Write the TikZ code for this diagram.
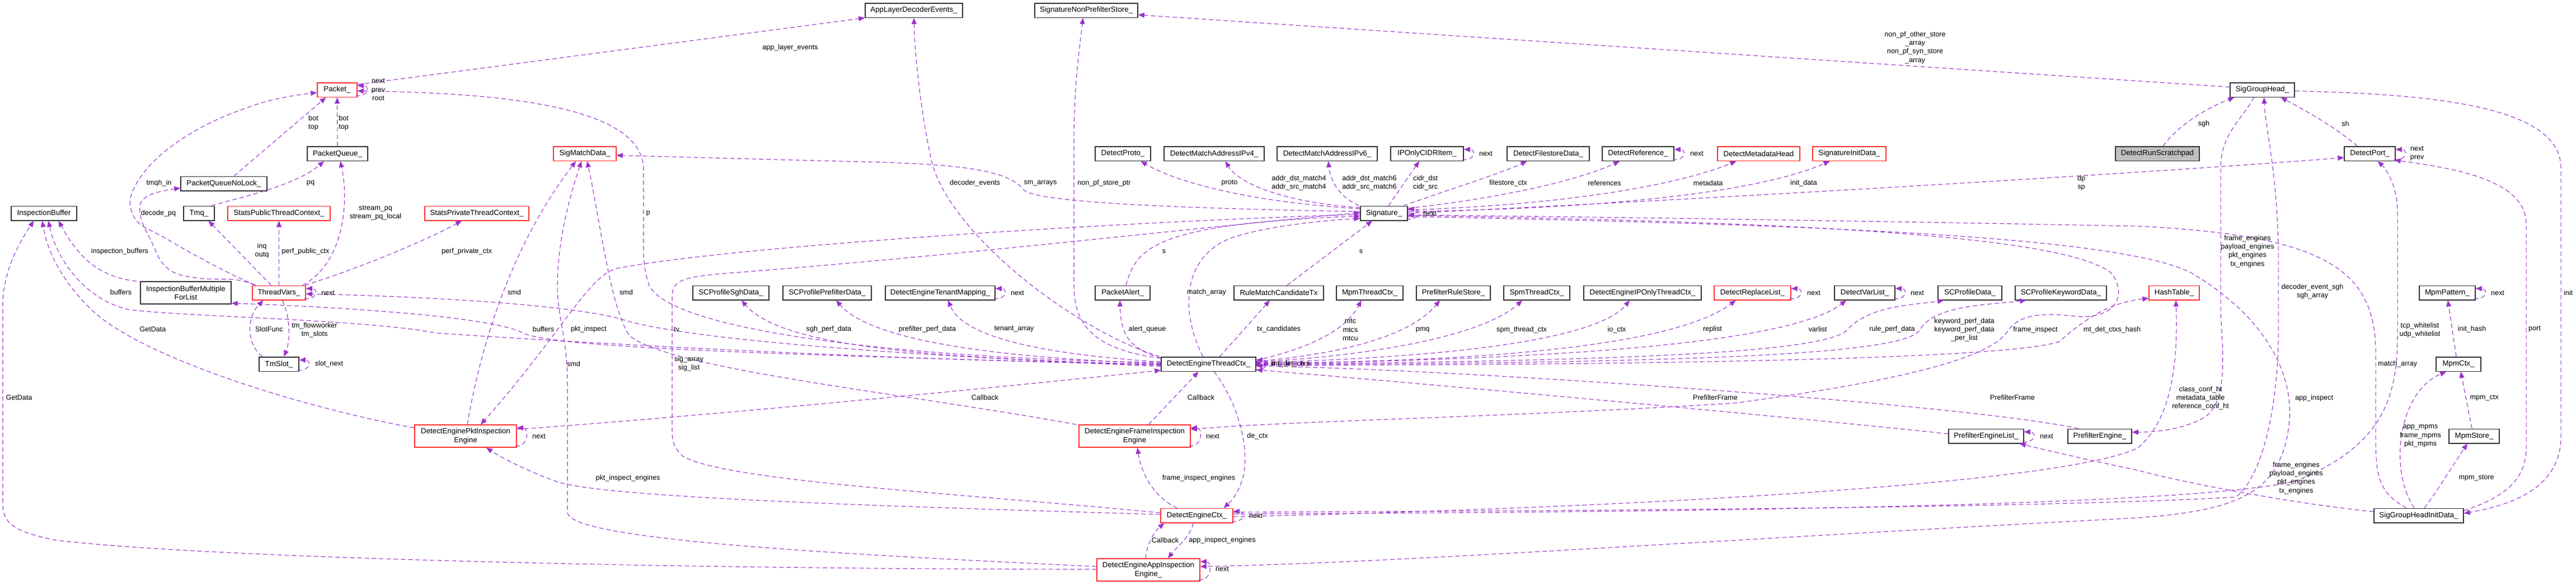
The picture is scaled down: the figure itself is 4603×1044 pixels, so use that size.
\documentclass[tikz,border=0pt]{standalone}
\usepackage{fontspec}
\setmainfont{Liberation Sans}
\usetikzlibrary{arrows.meta}

\definecolor{edgec}{HTML}{9A32CD}
\definecolor{redc}{HTML}{FF3030}
\definecolor{rootfill}{HTML}{BFBFBF}
\newcommand{\nodefont}{\fontsize{13.3pt}{15.3pt}\selectfont}
\newcommand{\lblfont}{\fontsize{12.6pt}{15.2pt}\selectfont}
\newcommand{\selfloop}[1]{\draw[dep] ([xshift=-3pt,yshift=3pt]#1.south east) .. controls +(24pt,-2pt) and +(22pt,0pt) .. ([yshift=-6pt]#1.north east);}

\tikzset{
  cls/.style={draw=black!80, line width=1.5pt, minimum height=25.5pt, inner xsep=4pt, inner ysep=0pt, font=\nodefont},
  trunc/.style={cls, draw=redc},
  root/.style={cls, fill=rootfill},
  two/.style={minimum height=40pt, align=center},
  lbl/.style={font=\lblfont, inner sep=0pt, align=center},
  dep/.style={draw=edgec, line width=1.1pt, dash pattern=on 8pt off 5pt, -{Triangle[length=11pt,width=9pt]}},
}

\begin{document}
\begin{tikzpicture}[x=1pt,y=-1pt]
\useasboundingbox (0,0) rectangle (4603,1044);

% classes
\node[trunc, minimum width=71] (Packet) at (602.5,160.5) {Packet\_};
\node[cls, minimum width=108] (PktQueue) at (603,274.5) {PacketQueue\_};
\node[cls, minimum width=154] (PktQueueNL) at (400,328) {PacketQueueNoLock\_};
\node[cls, minimum width=117] (InspBuf) at (78.5,381) {InspectionBuffer};
\node[cls, minimum width=55] (Tmq) at (355.5,381) {Tmq\_};
\node[trunc, minimum width=183] (StatsPub) at (498.5,381) {StatsPublicThreadContext\_};
\node[trunc, minimum width=186] (StatsPriv) at (852,381) {StatsPrivateThreadContext\_};
\node[cls, two, minimum width=162] (InspBufList) at (332,523) {InspectionBufferMultiple\\ForList};
\node[trunc, minimum width=95] (ThreadVars) at (498.5,523) {ThreadVars\_};
\node[cls, minimum width=71] (TmSlot) at (498.5,650.5) {TmSlot\_};
\node[trunc, two, minimum width=182] (PktEngine) at (832,779) {DetectEnginePktInspection\\Engine};
\node[trunc, minimum width=112] (SigMatch) at (1045,274.5) {SigMatchData\_};
\node[cls, minimum width=136] (ProfSgh) at (1306,523) {SCProfileSghData\_};
\node[cls, minimum width=158] (ProfPrefilter) at (1478,523) {SCProfilePrefilterData\_};
\node[cls, minimum width=174] (AppEvents) at (1633,18.5) {AppLayerDecoderEvents\_};
\node[cls, minimum width=184] (NonPfStore) at (1941,18.5) {SignatureNonPrefilterStore\_};
\node[cls, minimum width=99] (Proto) at (2006.5,274.5) {DetectProto\_};
\node[cls, minimum width=179] (AddrIPv4) at (2169.5,274.5) {DetectMatchAddressIPv4\_};
\node[cls, minimum width=179] (AddrIPv6) at (2371.5,274.5) {DetectMatchAddressIPv6\_};
\node[cls, minimum width=130] (CidrItem) at (2550,274.5) {IPOnlyCIDRItem\_};
\node[cls, minimum width=147] (Filestore) at (2766.5,274.5) {DetectFilestoreData\_};
\node[cls, minimum width=128] (Reference) at (2927,274.5) {DetectReference\_};
\node[trunc, minimum width=147] (MetaHead) at (3142.5,274.5) {DetectMetadataHead};
\node[trunc, minimum width=131] (SigInit) at (3304.5,274.5) {SignatureInitData\_};
\node[root, minimum width=150] (Scratchpad) at (3855,274.5) {DetectRunScratchpad};
\node[cls, minimum width=84] (Signature) at (2473,381) {Signature\_};
\node[cls, minimum width=98] (PktAlert) at (2006,523) {PacketAlert\_};
\node[cls, minimum width=160] (RuleCand) at (2285,523) {RuleMatchCandidateTx};
\node[cls, minimum width=196] (Tenant) at (1680,523) {DetectEngineTenantMapping\_};
\node[cls, minimum width=119] (MpmThread) at (2447.5,523) {MpmThreadCtx\_};
\node[cls, minimum width=132] (RuleStore) at (2597,523) {PrefilterRuleStore\_};
\node[cls, minimum width=118] (SpmThread) at (2746,523) {SpmThreadCtx\_};
\node[cls, minimum width=210] (IPOnlyCtx) at (2935,523) {DetectEngineIPOnlyThreadCtx\_};
\node[trunc, minimum width=137] (ReplaceList) at (3131.5,523) {DetectReplaceList\_};
\node[cls, minimum width=108] (VarList) at (3332,523) {DetectVarList\_};
\node[cls, minimum width=114] (ProfData) at (3520,523) {SCProfileData\_};
\node[cls, minimum width=163] (ProfKeyword) at (3682.5,523) {SCProfileKeywordData\_};
\node[trunc, minimum width=90] (HashTable) at (3885,523) {HashTable\_};
\node[cls, minimum width=100] (MpmPattern) at (4373,523) {MpmPattern\_};
\node[cls, minimum width=115] (SigGroupHead) at (4042.5,160.5) {SigGroupHead\_};
\node[cls, minimum width=91] (Port) at (4234.5,274.5) {DetectPort\_};
\node[cls, minimum width=169] (ThreadCtx) at (2159.5,650.5) {DetectEngineThreadCtx\_};
\node[trunc, two, minimum width=199] (FrameEngine) at (2027.5,779) {DetectEngineFrameInspection\\Engine};
\node[trunc, minimum width=129] (EngineCtx) at (2138.5,921) {DetectEngineCtx\_};
\node[trunc, two, minimum width=184] (AppEngine) at (2052,1018) {DetectEngineAppInspection\\Engine\_};
\node[cls, minimum width=134] (PfEngineList) at (3549,779) {PrefilterEngineList\_};
\node[cls, minimum width=114] (PfEngine) at (3752,779) {PrefilterEngine\_};
\node[cls, minimum width=80] (MpmCtx) at (4393,650.5) {MpmCtx\_};
\node[cls, minimum width=90] (MpmStore) at (4421,779) {MpmStore\_};
\node[cls, minimum width=160] (SghInit) at (4322,921) {SigGroupHeadInitData\_};

% self references
\foreach \n in {Packet,ThreadVars,TmSlot,PktEngine,Signature,CidrItem,Reference,Port,MpmPattern,ReplaceList,VarList,Tenant,ThreadCtx,FrameEngine,EngineCtx,AppEngine,PfEngineList}
  {\selfloop{\n}}

% packets and threads
\draw[dep] (PktQueue.north) -- (Packet.south);
\draw[dep] ([xshift=18pt]PktQueueNL.north) -- ([xshift=-20pt]Packet.south);
\draw[dep] ([yshift=-4pt]Packet.north east) -- (AppEvents.south west);
\draw[dep] plot[smooth, tension=0.7] coordinates {([xshift=7pt]ThreadVars.north west) (398,482) (300,428) (238,385) (250,318) (335,242) (460,186) ([yshift=-5pt]Packet.west)};
\draw[dep] plot[smooth, tension=0.7] coordinates {([xshift=4pt]ThreadVars.north west) (423,500) (348,496) (298,478) (270,430) (250,380) (264,350) ([yshift=-8pt]PktQueueNL.west)};
\draw[dep] ([xshift=-6pt]Tmq.north east) .. controls (440,350) and (530,330) .. ([xshift=-24pt]PktQueue.south);
\draw[dep] ([xshift=-14pt]ThreadVars.north) -- ([xshift=17pt]Tmq.south);
\draw[dep] (ThreadVars.north) -- (StatsPub.south);
\draw[dep] ([xshift=-6pt]ThreadVars.north east) .. controls (615,470) and (624,360) .. ([xshift=5pt]PktQueue.south);
\draw[dep] ([xshift=-2pt]ThreadVars.north east) .. controls (640,480) and (760,430) .. ([xshift=-27pt]StatsPriv.south);
\draw[dep] ([xshift=-6pt]InspBufList.north west) .. controls (170,495) and (135,450) .. ([xshift=26pt]InspBuf.south);
\draw[dep] ([xshift=-30pt]TmSlot.north) .. controls (438,612) and (442,565) .. ([xshift=-28pt]ThreadVars.south);
\draw[dep] ([xshift=6pt]ThreadVars.south) .. controls (520,570) and (518,610) .. ([xshift=9pt]TmSlot.north);

% inspection buffers
\draw[dep] ([yshift=-6pt]PktEngine.north west) .. controls (550,730) and (250,640) .. (160,550) .. controls (110,500) and (85,450) .. ([xshift=-3pt]InspBuf.south);
\draw[dep] ([yshift=1pt]AppEngine.west) .. controls (1300,1017) and (400,1000) .. (100,965) .. controls (25,950) and (5,935) .. (5,900) -- (5,545) .. controls (5,480) and (40,425) .. ([xshift=-18pt]InspBuf.south);
\draw[dep] (ThreadCtx.west) .. controls (1600,645) and (1000,610) .. (780,595) .. controls (650,570) and (330,566) .. (230,553) .. controls (150,535) and (100,460) .. ([xshift=8pt]InspBuf.south);
\draw[dep] ([yshift=-2pt]ThreadCtx.west) .. controls (1500,635) and (1000,625) .. (935,595) .. controls (880,565) and (600,548) .. ([yshift=2pt]InspBufList.south east);
\draw[dep] ([yshift=-4pt]ThreadCtx.west) .. controls (1500,630) and (1200,600) .. (1110,570) .. controls (1000,540) and (700,528) .. ([yshift=-2pt]ThreadVars.east);
\draw[dep] ([yshift=3pt]ThreadCtx.west) .. controls (1600,640) and (1200,590) .. (1160,510) .. controls (1150,480) and (1150,460) .. (1150,440) -- (1150,300) .. controls (1145,190) and (900,166) .. ([yshift=-2pt]Packet.east);

% sig match data
\draw[dep] ([xshift=3pt]PktEngine.north) .. controls (855,640) and (905,450) .. ([xshift=-16pt]SigMatch.south);
\draw[dep] ([xshift=-4pt]FrameEngine.north west) .. controls (1600,700) and (1200,660) .. (1125,600) .. controls (1090,550) and (1070,380) .. ([xshift=4pt]SigMatch.south);
\draw[dep] ([yshift=6pt]AppEngine.west) .. controls (1500,990) and (1014,965) .. (1014,915) -- (1014,690) .. controls (1014,600) and (996,570) .. (996,510) .. controls (996,420) and (1025,330) .. ([xshift=-6pt]SigMatch.south);
\draw[dep] ([yshift=3pt]Signature.west) .. controls (2100,372) and (1860,362) .. (1830,340) .. controls (1800,300) and (1700,292) .. (1500,288) -- ([yshift=-3pt]SigMatch.east);

% engines and thread ctx
\draw[dep] ([yshift=12pt]PktEngine.east) .. controls (1300,740) and (1800,690) .. ([yshift=-11pt]ThreadCtx.west);
\draw[dep] ([yshift=2pt]EngineCtx.west) .. controls (1600,905) and (1100,890) .. (1000,862) .. controls (950,845) and (900,820) .. ([xshift=37pt]PktEngine.south);
\draw[dep] ([yshift=5pt]EngineCtx.west) .. controls (1700,880) and (1300,860) .. (1220,815) .. controls (1205,800) and (1201,790) .. (1201,770) -- (1201,530) .. controls (1201,500) and (1220,495) .. (1300,488) .. controls (1700,458) and (2200,400) .. ([yshift=1pt]Signature.west);
\draw[dep] ([yshift=-2pt]Signature.west) .. controls (2000,396) and (1300,440) .. (1100,480) .. controls (1050,495) and (1000,600) .. ([xshift=27pt]PktEngine.north);
\draw[dep] ([yshift=-1pt]ThreadCtx.west) .. controls (1700,640) and (1400,625) .. ([xshift=19pt]ProfSgh.south);
\draw[dep] ([yshift=1pt]ThreadCtx.west) .. controls (1800,640) and (1560,612) .. ([xshift=16pt]ProfPrefilter.south);
\draw[dep] ([yshift=4pt]ThreadCtx.west) .. controls (1850,632) and (1720,600) .. ([xshift=14pt]Tenant.south);
\draw[dep] ([xshift=-2pt]ThreadCtx.north west) .. controls (1920,590) and (1700,420) .. (1665,290) .. controls (1645,200) and (1635,100) .. (AppEvents.south);
\draw[dep] ([yshift=-3pt]ThreadCtx.north west) .. controls (1960,625) and (1919,585) .. (1919,510) -- (1919,250) .. controls (1919,150) and (1930,80) .. ([xshift=-6pt]NonPfStore.south);
\draw[dep] ([yshift=-3pt]ThreadCtx.north west) .. controls (2010,620) and (2003,590) .. ([xshift=-5pt]PktAlert.south);
\draw[dep] ([xshift=-10pt]ThreadCtx.north) .. controls (2110,560) and (2110,460) .. (2200,425) .. controls (2260,405) and (2350,395) .. ([yshift=-9pt]Signature.west);
\draw[dep] ([xshift=20pt]ThreadCtx.north) -- ([xshift=-16pt]RuleCand.south);
\draw[dep] ([yshift=7pt]ThreadCtx.east) .. controls (2340,622) and (2405,590) .. ([xshift=-15pt]MpmThread.south);
\draw[dep] ([yshift=5pt]ThreadCtx.east) .. controls (2400,632) and (2520,600) .. ([xshift=-24pt]RuleStore.south);
\draw[dep] ([yshift=4pt]ThreadCtx.east) .. controls (2450,636) and (2650,600) .. ([xshift=-26pt]SpmThread.south);
\draw[dep] ([yshift=3pt]ThreadCtx.east) .. controls (2550,640) and (2850,612) .. ([xshift=-23pt]IPOnlyCtx.south);
\draw[dep] ([yshift=2pt]ThreadCtx.east) .. controls (2700,646) and (3000,612) .. ([xshift=-30pt]ReplaceList.south);
\draw[dep] ([yshift=1pt]ThreadCtx.east) .. controls (2800,642) and (3200,612) .. ([xshift=-33pt]VarList.south);
\draw[dep] (ThreadCtx.east) .. controls (2900,645) and (3260,630) .. (3300,590) .. controls (3340,545) and (3420,545) .. ([xshift=-47pt]ProfData.south);
\draw[dep] ([yshift=-1pt]ThreadCtx.east) .. controls (3000,648) and (3400,635) .. (3430,590) .. controls (3455,545) and (3550,545) .. ([xshift=-62pt]ProfKeyword.south);
\draw[dep] ([yshift=-2pt]ThreadCtx.east) .. controls (3000,652) and (3600,640) .. (3680,610) .. controls (3725,570) and (3770,540) .. ([yshift=-10pt]HashTable.west);
\draw[dep] ([yshift=4pt]PfEngineList.west) .. controls (3200,745) and (2600,690) .. ([yshift=-10pt]ThreadCtx.east);
\draw[dep] ([xshift=-38pt]PfEngine.north) .. controls (3500,720) and (2600,660) .. ([yshift=-3pt]ThreadCtx.east);
\draw[dep] ([xshift=10pt]ThreadCtx.south) .. controls (2220,730) and (2235,820) .. (2218,862) .. controls (2210,885) and (2198,897) .. ([xshift=48pt]EngineCtx.north);
\draw[dep] ([xshift=-35pt]EngineCtx.north) .. controls (2065,890) and (2040,850) .. ([xshift=5pt]FrameEngine.south);
\draw[dep] ([xshift=25pt]FrameEngine.north) -- ([xshift=-18pt]ThreadCtx.south);
\draw[dep] ([xshift=-5pt]AppEngine.north) .. controls (2048,975) and (2062,950) .. ([xshift=-58pt]EngineCtx.south);
\draw[dep] ([xshift=-6pt]EngineCtx.south) .. controls (2126,960) and (2100,980) .. ([xshift=35pt]AppEngine.north);

% signature members
\draw[dep] ([xshift=6pt]PktAlert.north) .. controls (2030,440) and (2070,400) .. ([yshift=-5pt]Signature.west);
\draw[dep] ([xshift=15pt]RuleCand.north) -- ([xshift=-21pt]Signature.south);
\draw[dep] ([yshift=8pt]Signature.west) .. controls (2250,362) and (2110,330) .. ([xshift=32pt]Proto.south);
\draw[dep] ([yshift=10pt]Signature.west) .. controls (2300,362) and (2215,330) .. ([xshift=20pt]AddrIPv4.south);
\draw[dep] ([xshift=-2pt]Signature.north west) .. controls (2400,355) and (2378,330) .. ([xshift=2pt]AddrIPv6.south);
\draw[dep] ([xshift=8pt]Signature.north) -- ([xshift=-14pt]CidrItem.south);
\draw[dep] ([xshift=-8pt]Signature.north east) .. controls (2600,335) and (2680,310) .. ([xshift=-38pt]Filestore.south);
\draw[dep] ([yshift=9pt]Signature.east) .. controls (2700,352) and (2830,318) .. ([xshift=-33pt]Reference.south);
\draw[dep] ([yshift=6pt]Signature.east) .. controls (2800,366) and (3000,330) .. ([xshift=-40pt]MetaHead.south);
\draw[dep] ([yshift=3pt]Signature.east) .. controls (2900,372) and (3150,340) .. ([xshift=-35pt]SigInit.south);
\draw[dep] (Signature.east) .. controls (3000,358) and (3800,312) .. ([yshift=-7pt]Port.west);
\draw[dep] ([yshift=-4pt]Signature.east) .. controls (3200,396) and (3700,420) .. (3775,490) .. controls (3800,530) and (3780,565) .. (3720,566) .. controls (3660,560) and (3610,555) .. (3585,595) .. controls (3550,640) and (3400,680) .. (3100,720) .. controls (2700,745) and (2300,752) .. ([yshift=12pt]FrameEngine.east);
\draw[dep] ([yshift=-6pt]Signature.east) .. controls (3200,400) and (3800,420) .. (3920,490) .. controls (4060,575) and (4100,680) .. (4090,760) .. controls (4075,880) and (4000,912) .. (3820,925) .. controls (3000,968) and (2500,1005) .. ([yshift=6pt]AppEngine.east);

% sig group head
\draw[dep] ([yshift=5pt]SigGroupHead.west) -- ([yshift=-8pt]NonPfStore.east);
\draw[dep] ([xshift=10pt]Scratchpad.north) .. controls (3895,220) and (3950,190) .. ([xshift=-50pt]SigGroupHead.south);
\draw[dep] ([xshift=-22pt]Port.north) .. controls (4170,225) and (4115,195) .. ([xshift=33pt]SigGroupHead.south);
\draw[dep] ([yshift=-2pt]SigGroupHead.east) .. controls (4350,168) and (4576,190) .. (4576,300) -- (4576,780) .. controls (4576,880) and (4470,905) .. ([yshift=4pt]SghInit.east);
\draw[dep] ([yshift=9pt]SghInit.east) .. controls (4470,890) and (4514,860) .. (4514,800) -- (4514,400) .. controls (4514,320) and (4380,300) .. ([xshift=-2pt,yshift=2pt]Port.south east);
\draw[dep] ([yshift=3pt]EngineCtx.east) .. controls (3000,915) and (3900,905) .. (4100,860) .. controls (4250,800) and (4284,720) .. (4284,600) -- (4284,380) .. controls (4284,330) and (4262,300) .. ([xshift=14pt]Port.south);
\draw[dep] ([yshift=-2pt]EngineCtx.east) .. controls (3000,905) and (3700,860) .. (3820,800) .. controls (3880,750) and (3892,650) .. ([xshift=3pt]HashTable.south);
\draw[dep] ([yshift=6pt]EngineCtx.east) .. controls (3000,912) and (3700,905) .. (3995,888) .. controls (4050,845) and (4071,700) .. (4071,600) -- (4071,440) .. controls (4068,300) and (4048,230) .. ([xshift=3pt]SigGroupHead.south);
\draw[dep] ([xshift=-15pt]SigGroupHead.south) .. controls (4005,215) and (3968,240) .. (3968,300) -- (3968,560) .. controls (3975,660) and (3975,720) .. (3940,745) .. controls (3900,768) and (3850,772) .. ([yshift=7pt]PfEngine.east);
\draw[dep] ([yshift=7pt]SghInit.west) .. controls (4100,900) and (3900,862) .. (3820,840) .. controls (3700,815) and (3640,800) .. ([xshift=-8pt]PfEngineList.south east);
\draw[dep] ([xshift=-22pt]SghInit.north) .. controls (4250,880) and (4245,850) .. (4245,780) -- (4245,620) .. controls (4240,480) and (4150,420) .. (3820,404) .. controls (3200,392) and (2700,386) .. ([yshift=-3pt]Signature.east);
\draw[dep] ([xshift=-8pt]SghInit.north) .. controls (4268,840) and (4285,700) .. ([xshift=-22pt]MpmCtx.south);
\draw[dep] ([xshift=10pt]SghInit.north) .. controls (4360,870) and (4390,820) .. ([xshift=-12pt]MpmStore.south);
\draw[dep] ([xshift=-4pt]MpmStore.north) -- ([xshift=4pt]MpmCtx.south);
\draw[dep] ([xshift=-4pt]MpmCtx.north) -- ([xshift=1pt]MpmPattern.south);

% member labels
\node[lbl] (lPacketSelf) at (676,160) {next\\prev\\root};
\node[lbl] (lAppLayer) at (1412,85) {app\_layer\_events};
\node[lbl] (lBotTopA) at (560,220) {bot\\top};
\node[lbl] (lBotTopB) at (614,220) {bot\\top};
\node[lbl] (lTmqhIn) at (284,327) {tmqh\_in};
\node[lbl] (lPq) at (555,327) {pq};
\node[lbl] (lDecodePq) at (283,381) {decode\_pq};
\node[lbl] (lStreamPq) at (671,380) {stream\_pq\\stream\_pq\_local};
\node[lbl] (lInspBufs) at (214,449) {inspection\_buffers};
\node[lbl] (lInqOutq) at (468,448) {inq\\outq};
\node[lbl] (lPerfPub) at (546,449) {perf\_public\_ctx};
\node[lbl] (lPerfPriv) at (834,449) {perf\_private\_ctx};
\node[lbl] (lBuffersA) at (216,522) {buffers};
\node[lbl] (lTvNext) at (586,523) {next};
\node[lbl] (lGetDataA) at (273,588) {GetData};
\node[lbl] (lSlotFunc) at (481,588) {SlotFunc};
\node[lbl] (lTmSlots) at (562,590) {tm\_flowworker\\tm\_slots};
\node[lbl] (lSlotNext) at (588,650) {slot\_next};
\node[lbl] (lGetDataB) at (34,710) {GetData};
\node[lbl] (lSmdA) at (919,522) {smd};
\node[lbl] (lSmdB) at (1119,522) {smd};
\node[lbl] (lSmdC) at (1025,650) {smd};
\node[lbl] (lP) at (1158,381) {p};
\node[lbl] (lBuffersB) at (971,588) {buffers};
\node[lbl] (lPktInspect) at (1052,588) {pkt\_inspect};
\node[lbl] (lTv) at (1209,588) {tv};
\node[lbl] (lSigArray) at (1231,650) {sig\_array\\sig\_list};
\node[lbl] (lPktNext) at (963,779) {next};
\node[lbl] (lPktEngines) at (1122,854) {pkt\_inspect\_engines};
\node[lbl] (lSghPerf) at (1481,588) {sgh\_perf\_data};
\node[lbl] (lPfPerf) at (1657,588) {prefilter\_perf\_data};
\node[lbl] (lTenantArray) at (1812,588) {tenant\_array};
\node[lbl] (lTenantNext) at (1818,523) {next};
\node[lbl] (lDecoderEvents) at (1742,327) {decoder\_events};
\node[lbl] (lSmArrays) at (1859,327) {sm\_arrays};
\node[lbl] (lNonPfPtr) at (1973,327) {non\_pf\_store\_ptr};
\node[lbl] (lProto) at (2197,327) {proto};
\node[lbl] (lMatch4) at (2321,327) {addr\_dst\_match4\\addr\_src\_match4};
\node[lbl] (lMatch6) at (2447,327) {addr\_dst\_match6\\addr\_src\_match6};
\node[lbl] (lCidr) at (2547,327) {cidr\_dst\\cidr\_src};
\node[lbl] (lFilestore) at (2695,327) {filestore\_ctx};
\node[lbl] (lReferences) at (2867,327) {references};
\node[lbl] (lMetadata) at (3052,327) {metadata};
\node[lbl] (lInitData) at (3223,327) {init\_data};
\node[lbl] (lSA) at (2080,449) {s};
\node[lbl] (lSB) at (2432,449) {s};
\node[lbl] (lSigNext) at (2555,381) {next};
\node[lbl] (lCidrNext) at (2655,274) {next};
\node[lbl] (lRefNext) at (3032,274) {next};
\node[lbl] (lNonPfStores) at (3422,85) {non\_pf\_other\_store\\\_array\\non\_pf\_syn\_store\\\_array};
\node[lbl] (lDpSp) at (3719,327) {dp\\sp};
\node[lbl] (lSgh) at (3938,221) {sgh};
\node[lbl] (lSh) at (4191,221) {sh};
\node[lbl] (lPortNext) at (4319,274) {next\\prev};
\node[lbl] (lEnginesA) at (4016,449) {frame\_engines\\payload\_engines\\pkt\_engines\\tx\_engines};
\node[lbl] (lDecoderSgh) at (4132,521) {decoder\_event\_sgh\\sgh\_array};
\node[lbl] (lInit) at (4589,523) {init};
\node[lbl] (lPatternNext) at (4463,523) {next};
\node[lbl] (lWhitelist) at (4324,590) {tcp\_whitelist\\udp\_whitelist};
\node[lbl] (lInitHash) at (4417,588) {init\_hash};
\node[lbl] (lPort) at (4529,588) {port};
\node[lbl] (lMatchArrayB) at (4284,650) {match\_array};
\node[lbl] (lConfHt) at (3932,711) {class\_conf\_ht\\metadata\_table\\reference\_conf\_ht};
\node[lbl] (lAppInspect) at (4135,711) {app\_inspect};
\node[lbl] (lMpms) at (4325,779) {app\_mpms\\frame\_mpms\\pkt\_mpms};
\node[lbl] (lMpmCtx) at (4439,711) {mpm\_ctx};
\node[lbl] (lEnginesB) at (4103,854) {frame\_engines\\payload\_engines\\pkt\_engines\\tx\_engines};
\node[lbl] (lMpmStore) at (4425,854) {mpm\_store};
\node[lbl] (lAlertQueue) at (2050,588) {alert\_queue};
\node[lbl] (lMatchArrayA) at (2156,522) {match\_array};
\node[lbl] (lTxCand) at (2285,588) {tx\_candidates};
\node[lbl] (lCallbackA) at (1760,710) {Callback};
\node[lbl] (lCallbackB) at (2146,710) {Callback};
\node[lbl] (lCallbackC) at (2082,965) {Callback};
\node[lbl] (lFrameNext) at (2167,779) {next};
\node[lbl] (lDeCtx) at (2247,779) {de\_ctx};
\node[lbl] (lFrameEngines) at (2142,854) {frame\_inspect\_engines};
\node[lbl] (lCtxNext) at (2244,921) {next};
\node[lbl] (lAppEngines) at (2184,965) {app\_inspect\_engines};
\node[lbl] (lAppNext) at (2184,1016) {next};
\node[lbl] (lMtc) at (2413,589) {mtc\\mtcs\\mtcu};
\node[lbl] (lPmq) at (2542,589) {pmq};
\node[lbl] (lSpm) at (2719,589) {spm\_thread\_ctx};
\node[lbl] (lIoCtx) at (2889,589) {io\_ctx};
\node[lbl] (lMtDet) at (2306,650) {mt\_det\_ctxs};
\node[lbl] (lReplist) at (3060,588) {replist};
\node[lbl] (lReplNext) at (3241,523) {next};
\node[lbl] (lVarNext) at (3426,523) {next};
\node[lbl] (lVarlist) at (3248,588) {varlist};
\node[lbl] (lRulePerf) at (3381,588) {rule\_perf\_data};
\node[lbl] (lKeywordPerf) at (3510,589) {keyword\_perf\_data\\keyword\_perf\_data\\\_per\_list};
\node[lbl] (lFrameInspect) at (3637,589) {frame\_inspect};
\node[lbl] (lMtHash) at (3774,589) {mt\_det\_ctxs\_hash};
\node[lbl] (lPfFrameA) at (3065,710) {PrefilterFrame};
\node[lbl] (lPfFrameB) at (3596,710) {PrefilterFrame};
\node[lbl] (lListNext) at (3657,779) {next};
\end{tikzpicture}
\end{document}
